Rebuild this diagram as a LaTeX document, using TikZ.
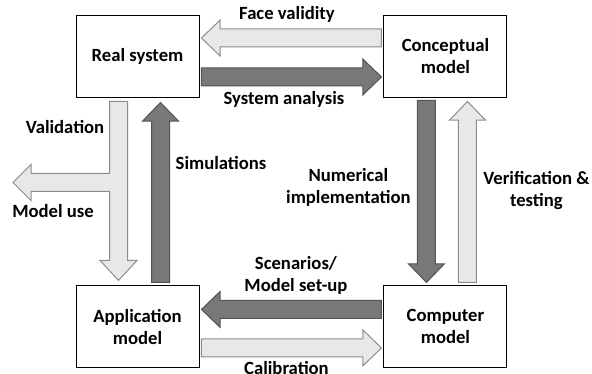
\documentclass[tikz,border=0pt]{standalone}
\usepackage{fontspec}
\setmainfont{Carlito}
\usetikzlibrary{positioning, calc}

\definecolor{lightfill}{gray}{0.91}
\definecolor{lightline}{gray}{0.55}
\definecolor{darkfill}{gray}{0.47}
\definecolor{darkline}{gray}{0.33}

% block arrow: style, from, to
\newcommand{\fatarrow}[3]{%
  \path (#2) coordinate (fa-s) (#3) coordinate (fa-e);
  \path ($(fa-e)!14pt!(fa-s)$) coordinate (fa-b);
  \draw[#1] ($(fa-s)!6.75pt!90:(fa-e)$) -- ($(fa-b)!6.75pt!90:(fa-e)$)
    -- ($(fa-b)!13.5pt!90:(fa-e)$) -- (fa-e) -- ($(fa-b)!13.5pt!-90:(fa-e)$)
    -- ($(fa-b)!6.75pt!-90:(fa-e)$) -- ($(fa-s)!6.75pt!-90:(fa-e)$) -- cycle;
}

\begin{document}
\begin{tikzpicture}[
    x=0.75pt, y=0.75pt,
    node distance=141pt and 138pt, % vertical and horizontal gaps between boxes
    box/.style={
        draw,
        line width=0.7pt,
        align=center,
        fill=white,
        font=\bfseries\fontsize{14}{16.5}\selectfont,
        minimum width=92.25pt,
        minimum height=61.5pt
    },
    lbl/.style={align=center, inner sep=0pt, font=\bfseries\fontsize{14}{16.5}\selectfont},
    light/.style={fill=lightfill, draw=lightline, line width=0.75pt},
    dark/.style={fill=darkfill, draw=darkline, line width=0.75pt}
]
\useasboundingbox (0,0) rectangle (592,374);

% Models
\node[box] (real) at (137.5,318) {Real system};
\node[box, right=of real] (concept) {Conceptual\\model};
\node[box, below=of real] (appl) {Application\\model};
\node[box, below=of concept] (comp) {Computer\\model};

% Top pair
\fatarrow{light}{[shift={(-2,18)}]concept.west}{[shift={(2,18)}]real.east}
\fatarrow{dark}{[shift={(2,-21)}]real.east}{[shift={(-2,-21)}]concept.west}

% Right pair
\fatarrow{dark}{[shift={(-19,-3)}]concept.south}{[shift={(-19,3)}]comp.north}
\fatarrow{light}{[shift={(22,3)}]comp.north}{[shift={(22,-4)}]concept.south}

% Bottom pair
\fatarrow{dark}{[shift={(-2,17.5)}]comp.west}{[shift={(2,17.5)}]appl.east}
\fatarrow{light}{[shift={(2,-21)}]appl.east}{[shift={(-2,-21)}]comp.west}

% Left side
\fatarrow{dark}{[shift={(23,3)}]appl.north}{[shift={(23,-5)}]real.south}
\coordinate (vtop) at ([shift={(-19,-4)}]real.south);
\coordinate (vbot) at ([shift={(-19,5)}]appl.north);
\coordinate (usetip) at ([shift={(-105.5,-81)}]vtop);
\draw[light] ([shift={(-9,0)}]vtop) -- ([shift={(9,0)}]vtop)
    -- ([shift={(9,20)}]vbot) -- ([shift={(18.5,20)}]vbot) -- (vbot)
    -- ([shift={(-18.5,20)}]vbot) -- ([shift={(-9,20)}]vbot)
    -- ([shift={(-9,-90)}]vtop) -- ([shift={(-87.5,-90)}]vtop)
    -- ([shift={(-87.5,-99)}]vtop) -- (usetip) -- ([shift={(-87.5,-63)}]vtop)
    -- ([shift={(-87.5,-72)}]vtop) -- ([shift={(-9,-72)}]vtop) -- cycle;

% Labels
\node[lbl] (fvlabel) at ($(real.east)!0.5!(concept.west)+(-4.5,41.5)$) {Face validity};
\node[lbl] (salabel) at ($(real.east)!0.5!(concept.west)+(-7.5,-43.5)$) {System analysis};
\node[lbl] (nilabel) at ($(concept.south)+(-97,-90)$) {Numerical\\implementation};
\node[lbl] (vtlabel) at ($(concept.south)+(91,-93)$) {Verification \&\\testing};
\node[lbl] (smlabel) at ($(appl.east)!0.5!(comp.west)+(4.5,52)$) {Scenarios/\\Model set-up};
\node[lbl] (cblabel) at ($(appl.east)!0.5!(comp.west)+(-5,-41)$) {Calibration};
\node[lbl] (valabel) at ($(real.south)+(-72.5,-30)$) {Validation};
\node[lbl] (mulabel) at ($(real.south)+(-84.5,-114)$) {Model use};
\node[lbl] (silabel) at ($(real.south)+(83.5,-66)$) {Simulations};

\end{tikzpicture}
\end{document}
